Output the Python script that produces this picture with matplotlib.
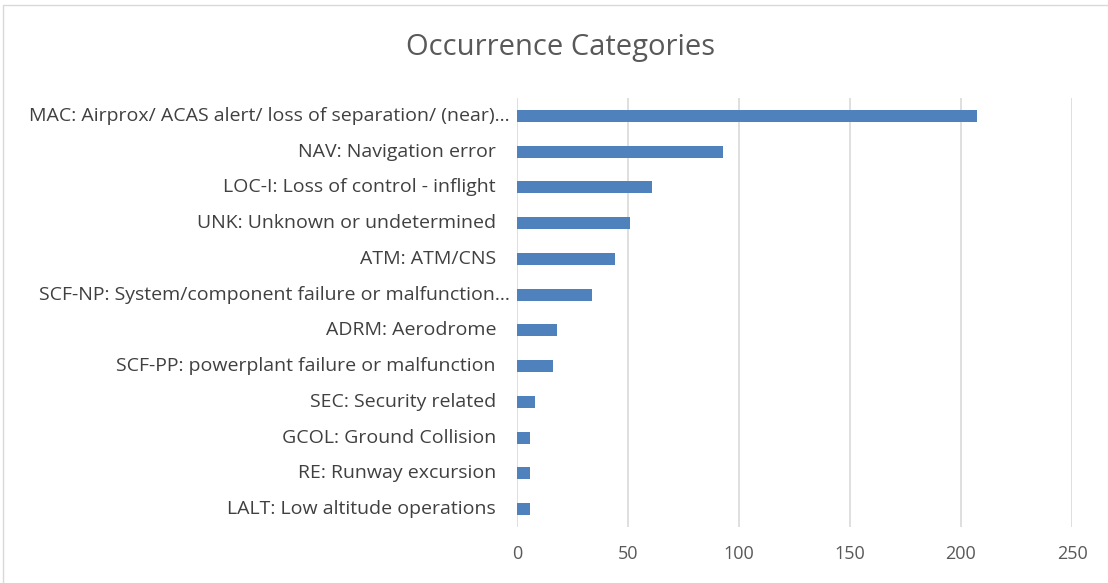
import matplotlib
matplotlib.use("Agg")
import matplotlib.pyplot as plt
from matplotlib.patches import Rectangle
import matplotlib.transforms as mtransforms

categories = [
    "MAC: Airprox/ ACAS alert/ loss of separation/ (near)…",
    "NAV: Navigation error",
    "LOC-I: Loss of control - inflight",
    "UNK: Unknown or undetermined",
    "ATM: ATM/CNS",
    "SCF-NP: System/component failure or malfunction…",
    "ADRM: Aerodrome",
    "SCF-PP: powerplant failure or malfunction",
    "SEC: Security related",
    "GCOL: Ground Collision",
    "RE: Runway excursion",
    "LALT: Low altitude operations",
]
values = [207, 93, 61, 51, 44, 34, 18, 16, 8, 6, 6, 6]
xticks = [0, 50, 100, 150, 200, 250]
title = "Occurrence Categories"

plt.rcParams['font.family'] = ['Open Sans', 'DejaVu Sans']

W, H = 1108, 583
fig = plt.figure(figsize=(W / 100, H / 100), dpi=100)
fig.patch.set_facecolor("white")
fig.patches.append(Rectangle((3 / W, -0.1), 1.2, 1.1 - 5 / H, transform=fig.transFigure,
                             fill=False, edgecolor="#d9d9d9", linewidth=1.0))

ax = fig.add_axes([517 / W, 1 - 527 / H, (1072 - 517) / W, (527 - 98) / H])
ypos = list(range(len(categories)))
ax.barh(ypos, values, height=0.33, color="#4f81bd", zorder=3)
ax.set_ylim(len(categories) - 0.5, -0.5)
ax.set_xlim(0, 250)
ax.set_xticks(xticks)
ax.set_xticklabels([str(t) for t in xticks])
ax.tick_params(axis='x', length=0, pad=13, labelsize=13, labelcolor="#595959")
ax.set_yticks(ypos)
ax.set_yticklabels([])
ax.tick_params(axis='y', length=0)
for s in ax.spines.values():
    s.set_visible(False)
ax.grid(axis='x', color="#d9d9d9", linewidth=1.2, zorder=0)
ax.set_axisbelow(True)

trans = mtransforms.blended_transform_factory(ax.transAxes, ax.transData)
for y, lab in zip(ypos, categories):
    off = 14 if lab.endswith("…") else 0
    t = mtransforms.offset_copy(trans, fig=fig, x=(-21 + off) / 100 * 72, y=0, units='points')
    ax.text(0, y, lab, transform=t, ha='right', va='center', fontsize=14, color="#404040")

fig.text(561 / W, 1 - 47 / H, title, ha='center', va='center', fontsize=21, color="#595959")

fig.savefig("out.png", dpi=100, facecolor="white")
